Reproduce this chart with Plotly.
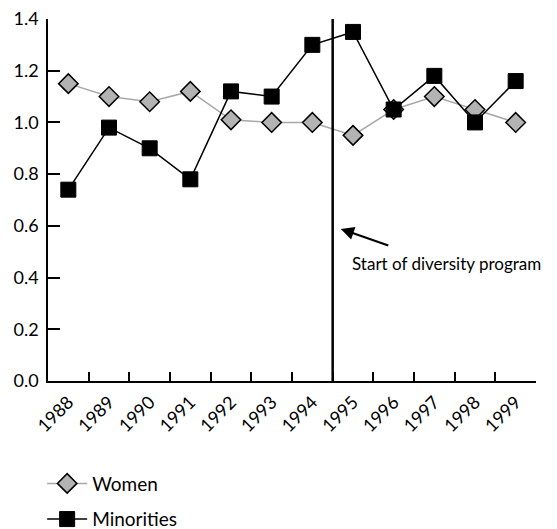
import plotly.graph_objects as go

years = ["1988", "1989", "1990", "1991", "1992", "1993", "1994", "1995", "1996", "1997", "1998", "1999"]
women = [1.15, 1.10, 1.08, 1.12, 1.01, 1.00, 1.00, 0.95, 1.05, 1.10, 1.05, 1.00]
minorities = [0.74, 0.98, 0.90, 0.78, 1.12, 1.10, 1.30, 1.35, 1.05, 1.18, 1.00, 1.16]
y_ticks = [0.0, 0.2, 0.4, 0.6, 0.8, 1.0, 1.2, 1.4]
program_start_index = 6.5
annotation_text = "Start of diversity program"

FONT = "Lato"

fig = go.Figure()
fig.add_trace(go.Scatter(
    x=years, y=women, name="Women", mode="lines+markers", legendgroup="w",
    line=dict(color="#a8a8a8", width=1.5),
    marker=dict(symbol="diamond", size=15, color="#b3b3b3",
                line=dict(color="black", width=1.5)),
))
fig.add_trace(go.Scatter(
    x=years, y=minorities, name="Minorities", mode="lines+markers", legendgroup="m",
    line=dict(color="black", width=1.5),
    marker=dict(symbol="square", size=15, color="black",
                line=dict(color="black", width=1)),
))

fig.add_shape(type="line", xref="x", yref="y",
              x0=program_start_index, x1=program_start_index, y0=0, y1=1.4,
              line=dict(color="black", width=2.5))

fig.add_annotation(x=6.7, y=0.588, xref="x", yref="y", ax=49, ay=17,
                   text="", showarrow=True, arrowhead=2, arrowsize=1.2,
                   arrowwidth=2.2, arrowcolor="black")
fig.add_annotation(x=6.92, y=0.456, xref="x", yref="y", text=annotation_text,
                   showarrow=False, xanchor="left", yanchor="middle",
                   font=dict(family=FONT, size=17, color="black"))

fig.update_layout(
    width=557, height=529,
    margin=dict(l=40, r=29, t=11, b=156),
    paper_bgcolor="white", plot_bgcolor="white",
    font=dict(family=FONT, size=17, color="black"),
    showlegend=True,
    legend=dict(x=-0.012, xref="paper", y=0.137, yref="container",
                xanchor="left", yanchor="top",
                font=dict(family=FONT, size=19, color="black"),
                itemwidth=40, traceorder="grouped", tracegroupgap=8,
                bgcolor="rgba(0,0,0,0)"),
)
fig.update_xaxes(
    type="category", range=[-0.5, 11.5], tickson="boundaries",
    ticks="inside", ticklen=9, tickwidth=1.5, tickcolor="black",
    showline=True, linecolor="black", linewidth=1.5,
    showgrid=False, zeroline=False, tickangle=-45, automargin=False,
    ticklabelstandoff=2, ticklabeloverflow="allow",
    tickfont=dict(family=FONT, size=18),
)
fig.update_yaxes(
    range=[0, 1.4], tickvals=y_ticks, ticktext=[f"{v:.1f}" for v in y_ticks],
    ticks="inside", ticklen=12, tickwidth=1.5, tickcolor="black",
    showline=True, linecolor="black", linewidth=1.5,
    showgrid=False, zeroline=False, automargin=False,
    ticklabelstandoff=4, ticklabeloverflow="allow",
    tickfont=dict(family=FONT, size=18),
)

fig.write_html("out.html")
